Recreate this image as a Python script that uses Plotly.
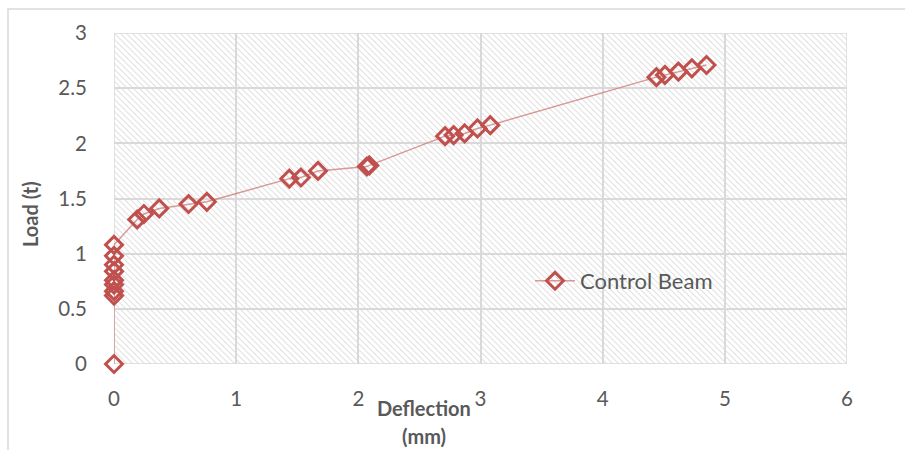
import base64
import plotly.graph_objects as go

# Load-deflection readings for the control beam
deflection_mm = [0.0, 0.0, 0.0, 0.0, 0.0, 0.0, 0.0, 0.0, 0.0,
                 0.19, 0.245, 0.37, 0.61, 0.76,
                 1.435, 1.53, 1.67, 2.07, 2.09,
                 2.71, 2.78, 2.87, 2.975, 3.08,
                 4.44, 4.51, 4.62, 4.73, 4.85]
load_t = [0.0, 0.62, 0.66, 0.72, 0.76, 0.84, 0.90, 0.98, 1.08,
          1.31, 1.36, 1.41, 1.45, 1.47,
          1.68, 1.69, 1.75, 1.79, 1.80,
          2.065, 2.075, 2.09, 2.135, 2.165,
          2.60, 2.62, 2.65, 2.68, 2.71]
series_name = "Control Beam"
x_ticks = [0, 1, 2, 3, 4, 5, 6]
y_ticks = [0, 0.5, 1, 1.5, 2, 2.5, 3]

W, H = 905, 450
ML, MR, MT, MB = 114, 58, 33, 86
PW, PH = W - ML - MR, H - MT - MB

# Diagonal hatch fill for the plot area
svg = f'''<svg xmlns="http://www.w3.org/2000/svg" width="{PW}" height="{PH}">
<defs><pattern id="h" width="6" height="6" patternUnits="userSpaceOnUse">
<path d="M-1,-1 L7,7 M-1,5 L1,7 M5,-1 L7,1" stroke="#e2e2e2" stroke-width="1.2"/>
</pattern></defs>
<rect width="{PW}" height="{PH}" fill="#ffffff"/>
<rect width="{PW}" height="{PH}" fill="url(#h)"/>
</svg>'''
hatch_uri = "data:image/svg+xml;base64," + base64.b64encode(svg.encode()).decode()

red = "#c0504d"
FAM = "Lato, 'Open Sans', sans-serif"
tick_font = dict(family=FAM, size=20.5, color="#595959")
legend_font = dict(family=FAM, size=22, color="#595959")
title_font = dict(family=FAM, size=20, color="#595959")


def px_x(px):
    return (px - ML) / PW


def px_y(py):
    # py measured from the top of the page
    return ((H - py) - MB) / PH


fig = go.Figure()
fig.add_trace(go.Scatter(
    x=deflection_mm, y=load_t, name=series_name, mode="lines+markers",
    cliponaxis=False,
    line=dict(color="rgba(205,120,118,0.75)", width=1.5),
    marker=dict(symbol="diamond-open", size=13, color=red, line=dict(color=red, width=3)),
))

fig.update_layout(
    width=W, height=H,
    margin=dict(l=ML, r=MR, t=MT, b=MB),
    paper_bgcolor="#ffffff", plot_bgcolor="rgba(0,0,0,0)",
    showlegend=True,
    legend=dict(x=px_x(530), y=px_y(281), xanchor="left", yanchor="middle",
                bgcolor="rgba(0,0,0,0)", font=legend_font, itemwidth=40),
    images=[dict(source=hatch_uri, xref="paper", yref="paper", x=0, y=1,
                 sizex=1, sizey=1, sizing="stretch", layer="below",
                 xanchor="left", yanchor="top")],
    xaxis=dict(range=[0, 6], tickvals=x_ticks, showgrid=True, gridcolor="#d9d9d9",
               gridwidth=1.5, zeroline=False, showline=False, ticks="outside",
               ticklen=16, tickcolor="rgba(0,0,0,0)", tickfont=tick_font),
    yaxis=dict(range=[0, 3], tickvals=y_ticks, showgrid=True, gridcolor="#d9d9d9",
               gridwidth=1.5, zeroline=False, showline=False, ticks="outside",
               ticklen=22, tickcolor="rgba(0,0,0,0)", tickfont=tick_font),
    annotations=[
        dict(text="<b>Deflection</b>", x=px_x(424), y=px_y(408), xref="paper", yref="paper",
             xanchor="center", yanchor="middle", showarrow=False, font=title_font),
        dict(text="<b>(mm)</b>", x=px_x(424), y=px_y(436), xref="paper", yref="paper",
             xanchor="center", yanchor="middle", showarrow=False, font=title_font),
        dict(text="<b>Load (t)</b>", x=px_x(30), y=px_y(214), xref="paper", yref="paper",
             xanchor="center", yanchor="middle", showarrow=False, textangle=-90,
             font=title_font),
    ],
    shapes=[
        # plot-area edges at x=0..6 and y=0..3
        dict(type="rect", xref="x", yref="y", x0=0, x1=6, y0=0, y1=3,
             line=dict(color="#d9d9d9", width=1.5), layer="below"),
        # outer chart frame
        dict(type="rect", xref="paper", yref="paper",
             x0=px_x(8), x1=px_x(W + 5), y0=px_y(H + 5), y1=px_y(9),
             line=dict(color="#d9d9d9", width=1.5)),
    ],
)

fig.write_html("out.html")
